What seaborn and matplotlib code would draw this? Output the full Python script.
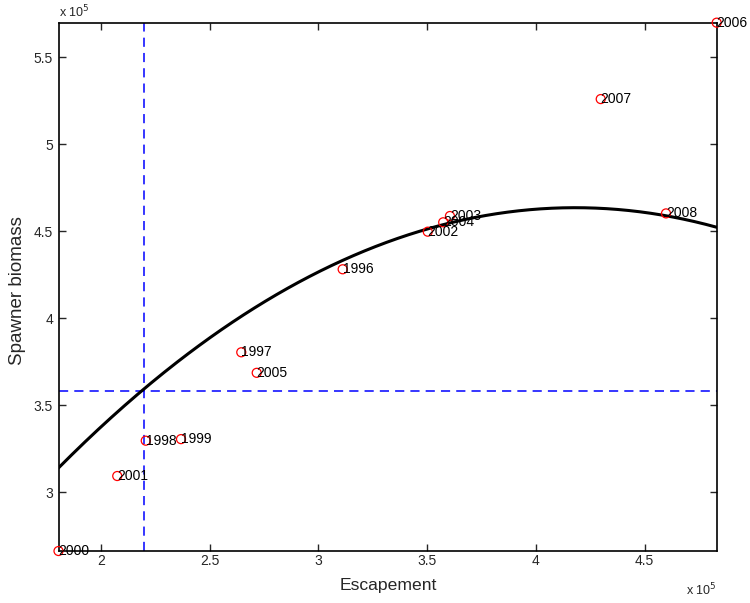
import numpy as np
import pandas as pd
import matplotlib
matplotlib.use("Agg")
import matplotlib.pyplot as plt
from matplotlib.ticker import FuncFormatter, FixedLocator
import seaborn as sns

# Observed escapement / spawner biomass by brood year
years = [1996, 1997, 1998, 1999, 2000, 2001, 2002, 2003, 2004, 2005, 2006, 2007, 2008]
escapement = [311200, 264600, 220700, 236900, 180600, 207600, 350300, 360500,
              357400, 271700, 483100, 429800, 459800]
spawner_biomass = [428200, 380500, 329700, 330600, 266300, 309400, 449800, 458800,
                   455200, 368700, 569900, 526000, 460300]

# Fitted curve S = a*E + b*E^2
curve_a = 2.218
curve_b = -2.653e-6

# Reference lines
ref_escapement = 219800
ref_biomass = 358400

x_ticks = [200000, 250000, 300000, 350000, 400000, 450000]
y_ticks = [300000, 350000, 400000, 450000, 500000, 550000]

df = pd.DataFrame({"year": years, "E": escapement, "S": spawner_biomass})
e_grid = np.linspace(min(escapement), max(escapement), 300)
fit = pd.DataFrame({"E": e_grid, "S": curve_a * e_grid + curve_b * e_grid ** 2})

sns.set_style("ticks")
plt.rcParams["font.family"] = ["Liberation Sans", "DejaVu Sans"]

fig = plt.figure(figsize=(7.5, 6.03), dpi=100)
ax = fig.add_axes([0.078, 0.0862, 0.8776, 0.8762])

sns.lineplot(data=fit, x="E", y="S", ax=ax, color="black", linewidth=2.2, zorder=3)
ax.axvline(ref_escapement, color="#0000ff", linestyle=(0, (6, 4)), linewidth=1.1, zorder=2)
ax.axhline(ref_biomass, color="#0000ff", linestyle=(0, (6, 4)), linewidth=1.1, zorder=2)
sns.scatterplot(data=df, x="E", y="S", ax=ax, marker="o", s=42,
                facecolor="none", edgecolor="#ff0000", linewidth=0.9, zorder=4,
                clip_on=False)

for yr, e, s in zip(years, escapement, spawner_biomass):
    ax.text(e, s, str(yr), ha="left", va="center", fontsize=10, color="black",
            zorder=5, clip_on=False)

ax.set_xlim(min(escapement), max(escapement))
ax.set_ylim(min(spawner_biomass), max(spawner_biomass))
ax.xaxis.set_major_locator(FixedLocator(x_ticks))
ax.yaxis.set_major_locator(FixedLocator(y_ticks))
ax.xaxis.set_major_formatter(FuncFormatter(lambda v, p: f"{v / 1e5:g}"))
ax.yaxis.set_major_formatter(FuncFormatter(lambda v, p: f"{v / 1e5:g}"))

ax.tick_params(direction="in", length=5, width=1, labelsize=10,
               top=True, right=True)
ax.tick_params(axis="x", pad=2.5)
ax.tick_params(axis="y", pad=4)
for sp in ax.spines.values():
    sp.set_visible(True)
    sp.set_linewidth(1.2)
    sp.set_color("black")

ax.set_xlabel("")
ax.set_ylabel("")
fig.text(0.5178, 0.0216, "Escapement", fontsize=12.6, ha="center", va="baseline")
fig.text(0.024, 0.5177, "Spawner biomass", fontsize=13.5, rotation=90,
         ha="center", va="center")

fig.text(0.0787, 0.9715, "x 10$^{5}$", fontsize=9, ha="left", va="baseline")
fig.text(0.9556, 0.0133, "x 10$^{5}$", fontsize=9, ha="right", va="baseline")

fig.savefig("out.png", dpi=100)
